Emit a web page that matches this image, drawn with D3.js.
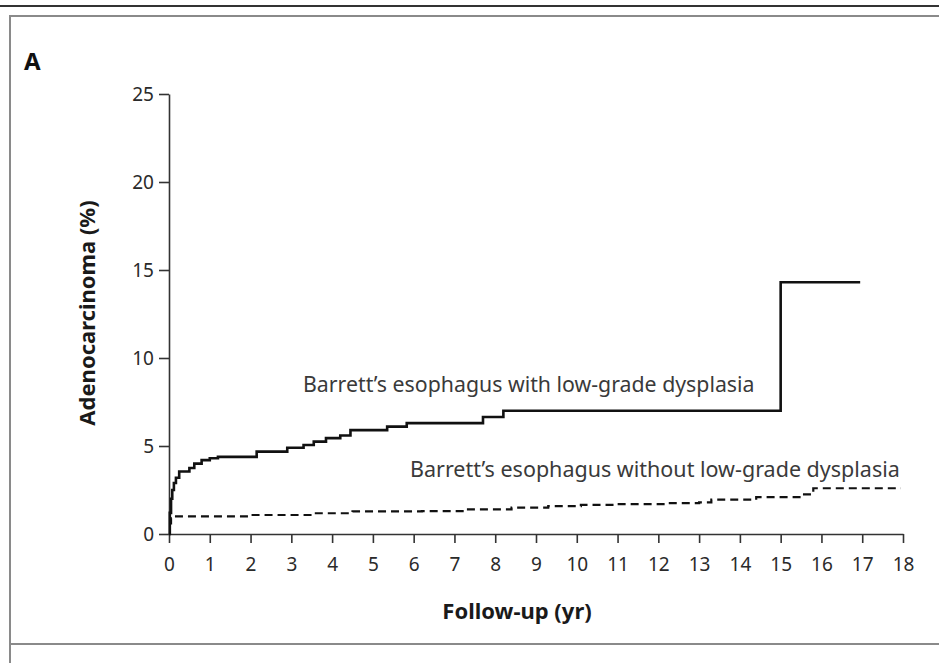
<!DOCTYPE html>
<html lang="en">

<head>
    <meta charset="UTF-8">
    <title>Adenocarcinoma follow-up</title>
    <script src="https://d3js.org/d3.v7.min.js"></script>
    <style>
        body { margin: 0; background: #fff; }
        text { font-family: "Noto Sans", "Open Sans", sans-serif; }
    </style>
</head>

<body>
    <script>

        // cumulative incidence, low-grade dysplasia (step points: year, %)
        var lgdYears = [0, 0.02, 0.05, 0.08, 0.12, 0.17, 0.25, 0.5, 0.62, 0.8, 1.0, 1.2, 2.15, 2.9, 3.3, 3.55, 3.85, 4.2, 4.45, 5.35, 5.83, 7.7, 8.2, 15.0, 16.95];
        var lgdValues = [0, 1.2, 2.0, 2.5, 2.9, 3.2, 3.55, 3.75, 4.0, 4.2, 4.3, 4.38, 4.68, 4.9, 5.06, 5.25, 5.45, 5.6, 5.9, 6.1, 6.3, 6.65, 7.0, 14.3, 14.3];

        // without low-grade dysplasia
        var noLgdYears = [0, 0.05, 0.12, 2.0, 3.5, 4.5, 6.2, 7.2, 8.4, 9.3, 10.1, 11.0, 12.2, 13.0, 13.3, 14.4, 15.5, 15.8, 17.95];
        var noLgdValues = [0.6, 0.9, 1.0, 1.08, 1.18, 1.28, 1.3, 1.4, 1.5, 1.58, 1.65, 1.7, 1.75, 1.8, 1.95, 2.1, 2.25, 2.6, 2.6];

        var xTicks = d3.range(0, 19);
        var yTicks = [0, 5, 10, 15, 20, 25];

        var W = 939, H = 663;
        var svg = d3.select("body").append("svg")
            .attr("width", W)
            .attr("height", H);

        // frame lines
        svg.append("line").attr("x1", 0).attr("x2", W).attr("y1", 6).attr("y2", 6)
            .attr("stroke", "#333").attr("stroke-width", 2.2);
        svg.append("rect").attr("x", 10).attr("y", 16).attr("width", W + 20).attr("height", 628)
            .attr("fill", "none").attr("stroke", "#8a8a8a").attr("stroke-width", 2);
        svg.append("line").attr("x1", 10).attr("x2", 10).attr("y1", 644).attr("y2", H)
            .attr("stroke", "#8a8a8a").attr("stroke-width", 2);

        svg.append("text").attr("x", 24).attr("y", 70)
            .attr("font-size", 24).attr("font-weight", "bold").attr("fill", "#111")
            .text("A");

        var x = d3.scaleLinear().domain([0, 18]).range([169, 903]);
        var y = d3.scaleLinear().domain([0, 25]).range([534, 94]);

        var xAxis = svg.append("g")
            .attr("transform", "translate(0," + y(0) + ")")
            .call(d3.axisBottom(x).tickValues(xTicks).tickSize(9).tickSizeOuter(0).tickPadding(5));
        var yAxis = svg.append("g")
            .attr("transform", "translate(" + x(0) + ",0)")
            .call(d3.axisLeft(y).tickValues(yTicks).tickSize(10).tickSizeOuter(0).tickPadding(5));

        [xAxis, yAxis].forEach(function (g) {
            g.select(".domain").attr("stroke", "#333").attr("stroke-width", 1.6);
            g.selectAll(".tick line").attr("stroke", "#333").attr("stroke-width", 1.6);
            g.selectAll(".tick text").attr("fill", "#2a2a2a").attr("font-size", 19)
                .style("font-family", "'Noto Sans', sans-serif");
        });
        xAxis.selectAll(".tick text").attr("y", 24);

        svg.append("text")
            .attr("transform", "translate(95," + 313 + ") rotate(-90)")
            .attr("text-anchor", "middle")
            .attr("font-size", 22).attr("font-weight", "bold").attr("fill", "#1a1a1a")
            .text("Adenocarcinoma (%)");

        svg.append("text")
            .attr("x", 517).attr("y", 619)
            .attr("text-anchor", "middle")
            .attr("font-size", 22).attr("font-weight", "bold").attr("fill", "#1a1a1a")
            .text("Follow-up (yr)");

        var line = d3.line()
            .x(function (d) { return x(d[0]); })
            .y(function (d) { return y(d[1]); })
            .curve(d3.curveStepAfter);

        var lgd = d3.zip(lgdYears, lgdValues);
        var noLgd = d3.zip(noLgdYears, noLgdValues);

        svg.append("path").datum(noLgd)
            .attr("d", line)
            .attr("fill", "none").attr("stroke", "#111")
            .attr("stroke-width", 2.2).attr("stroke-dasharray", "8,5");

        svg.append("path").datum(lgd)
            .attr("d", line)
            .attr("fill", "none").attr("stroke", "#111")
            .attr("stroke-width", 2.6);

        svg.append("text")
            .attr("x", 303).attr("y", 392)
            .attr("font-size", 21.3).attr("fill", "#3a3a3a")
            .text("Barrett\u2019s esophagus with low-grade dysplasia");

        svg.append("text")
            .attr("x", 410).attr("y", 477)
            .attr("font-size", 21.5).attr("fill", "#3a3a3a")
            .text("Barrett\u2019s esophagus without low-grade dysplasia");

    </script>
</body>

</html>
